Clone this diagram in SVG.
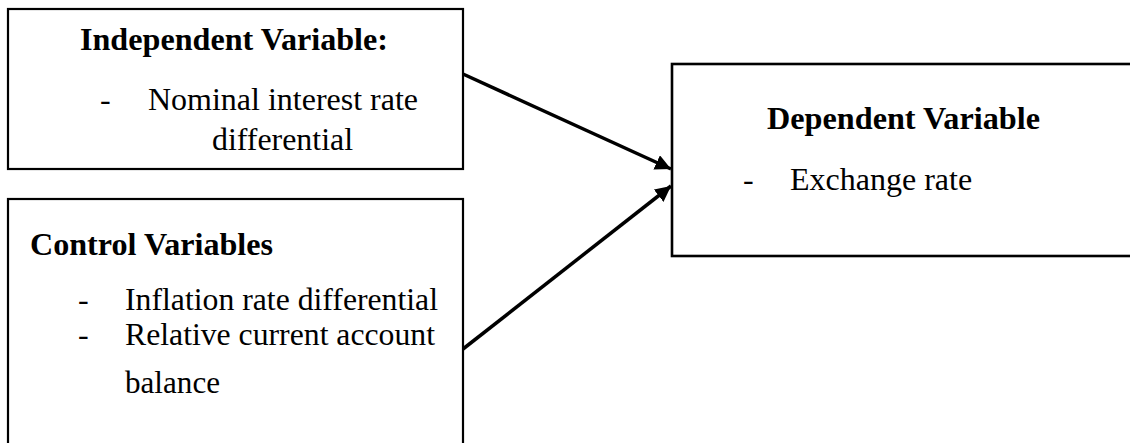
<svg xmlns="http://www.w3.org/2000/svg" width="1130" height="443" viewBox="0 0 1130 443">
<style>
.box{fill:#fff;stroke:#000;stroke-width:2.2}
.t{font-family:"Liberation Serif","Times New Roman",serif;font-size:32px;fill:#000}
.b{font-weight:bold}
.conn{stroke:#000;stroke-width:3.5;fill:none}
</style>
<defs>
<marker id="ah" viewBox="0 0 10 10" refX="10" refY="5" markerWidth="4.5" markerHeight="4.5" orient="auto" markerUnits="strokeWidth">
<path d="M0,0 L10,5 L0,10 z" fill="#000"/>
</marker>
</defs>
<g id="independent">
<rect class="box" x="8" y="9" width="455" height="160"/>
<text class="t b" x="80" y="50" textLength="308" lengthAdjust="spacingAndGlyphs">Independent Variable:</text>
<text class="t" x="100" y="110">-</text>
<text class="t" x="148" y="110" textLength="270" lengthAdjust="spacingAndGlyphs">Nominal interest rate</text>
<text class="t" x="212" y="150" textLength="141" lengthAdjust="spacingAndGlyphs">differential</text>
</g>
<g id="control">
<rect class="box" x="8" y="199" width="455" height="260"/>
<text class="t b" x="30" y="255" textLength="243" lengthAdjust="spacingAndGlyphs">Control Variables</text>
<text class="t" x="78" y="310">-</text>
<text class="t" x="125" y="310" textLength="313" lengthAdjust="spacingAndGlyphs">Inflation rate differential</text>
<text class="t" x="78" y="345">-</text>
<text class="t" x="125" y="345" textLength="310" lengthAdjust="spacingAndGlyphs">Relative current account</text>
<text class="t" x="125" y="393" textLength="95" lengthAdjust="spacingAndGlyphs">balance</text>
</g>
<g id="dependent">
<rect x="672" y="64" width="470" height="192" fill="#fff" stroke="#000" stroke-width="2.6"/>
<text class="t b" x="767" y="129" textLength="273" lengthAdjust="spacingAndGlyphs">Dependent Variable</text>
<text class="t" x="743" y="190">-</text>
<text class="t" x="790" y="190">Exchange rate</text>
</g>
<g id="connectors">
<line class="conn" x1="463" y1="74" x2="671" y2="169" marker-end="url(#ah)"/>
<line class="conn" x1="463" y1="349" x2="671" y2="186" marker-end="url(#ah)"/>
</g>
</svg>
